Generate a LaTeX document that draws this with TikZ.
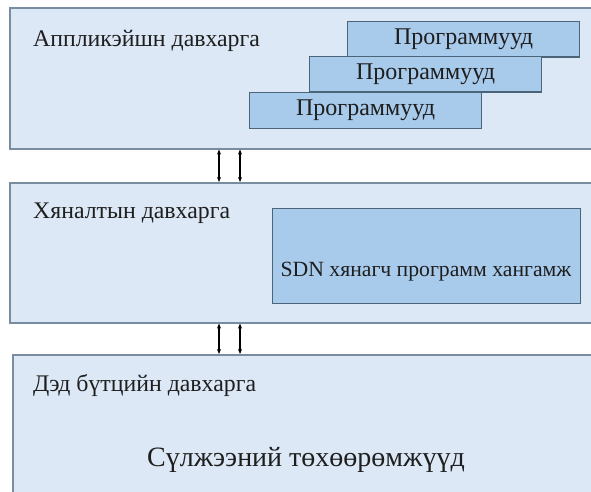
\documentclass[tikz,border=0pt]{standalone}
\usepackage{fontspec}
\setmainfont{Liberation Serif}
\newfontfamily\diagfont{Liberation Serif}
\usetikzlibrary{arrows.meta}

\definecolor{layerfill}{HTML}{DCE8F5}
\definecolor{layerline}{HTML}{7A8DA0}
\definecolor{boxfill}{HTML}{A8CAEB}
\definecolor{boxline}{HTML}{4C6478}
\definecolor{ink}{HTML}{1E1E1E}

\tikzset{
  layer/.style={draw=layerline, line width=1.6pt, fill=layerfill, rectangle,
    anchor=north west, inner sep=0pt},
  appbox/.style={draw=boxline, line width=1.2pt, fill=boxfill, rectangle,
    anchor=north west, inner sep=0pt, minimum width=232pt, minimum height=35.5pt,
    text=ink, font=\diagfont\fontsize{24}{27}\selectfont},
  layerlabel/.style={anchor=base west, inner sep=0pt, text=ink,
    font=\diagfont\fontsize{23.8}{27}\selectfont},
  link/.style={{Stealth[length=5pt,width=4pt]}-{Stealth[length=5pt,width=4pt]},
    line width=1.1pt, black}
}

\begin{document}
\begin{tikzpicture}[x=1pt, y=-1pt]
  \useasboundingbox (0,0) rectangle (591,492);
  \fill[white] (0,0) rectangle (591,492);

  % three layers, running off the right edge
  \node[layer, minimum width=600pt, minimum height=141pt] (app) at (9,7) {};
  \node[layer, minimum width=600pt, minimum height=140pt] (ctrl) at (9,182) {};
  \node[layer, minimum width=600pt, minimum height=150pt] (infra) at (12,354) {};

  % application layer
  \node[layerlabel] (applbl) at (33,47) {Аппликэйшн давхарга};
  \node[appbox] (prog1) at (347,21) {Программууд};
  \node[appbox] (prog2) at (309,56) {Программууд};
  \node[appbox] (prog3) at (249,92) {Программууд};

  % control layer
  \node[layerlabel] (ctrllbl) at (33,218) {Хяналтын давхарга};
  \node[draw=boxline, line width=1.2pt, fill=boxfill, anchor=north west,
        minimum width=308pt, minimum height=95pt, inner sep=0pt] (sdn) at (272,208) {};
  \node[font=\diagfont\fontsize{21.7}{25}\selectfont, text=ink, anchor=center, inner sep=0pt]
        (sdnlbl) at (426,272) {SDN хянагч программ хангамж};

  % infrastructure layer
  \node[layerlabel] (infralbl) at (33,391) {Дэд бүтцийн давхарга};
  \node[font=\diagfont\fontsize{28}{32}\selectfont, text=ink, anchor=center, inner sep=0pt]
        (dev) at (306,460) {Сүлжээний төхөөрөмжүүд};

  % interfaces between layers
  \coordinate (l1) at (219,0);
  \coordinate (l2) at (240,0);
  \draw[link] (l1 |- app.south) -- (l1 |- ctrl.north);
  \draw[link] (l2 |- app.south) -- (l2 |- ctrl.north);
  \draw[link] (l1 |- ctrl.south) -- (l1 |- infra.north);
  \draw[link] (l2 |- ctrl.south) -- (l2 |- infra.north);
\end{tikzpicture}
\end{document}
